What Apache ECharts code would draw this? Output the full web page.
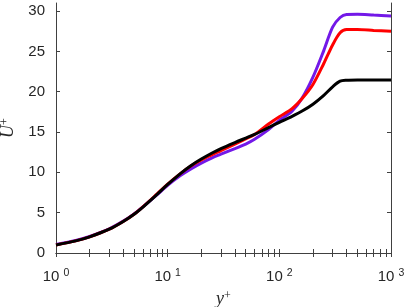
<!DOCTYPE html>
<html><head><meta charset="utf-8">
<script src="https://cdn.jsdelivr.net/npm/echarts@6/dist/echarts.min.js"></script>
<style>html,body{margin:0;padding:0;background:#fff}#c{width:407px;height:307px}</style>
</head><body><div id="c"></div>
<script>
const yPlus = [1,1.5,2,3,4,5,6,8,10,13,16,20,25,30,40,50,60,80,100,130,160,200,250,300,350,400,500,700,1000];
const uBlack = [1.0,1.5,2.0,2.95,3.9,4.8,5.7,7.25,8.5,9.85,10.8,11.65,12.4,12.95,13.7,14.25,14.7,15.55,16.2,16.95,17.6,18.45,19.55,20.6,21.3,21.42,21.45,21.45,21.45];
const uRed = [1.0,1.5,2.0,2.95,3.9,4.8,5.72,7.3,8.55,9.85,10.75,11.55,12.2,12.7,13.5,14.15,14.7,16.0,16.9,17.9,19.15,20.9,23.5,25.8,27.3,27.7,27.7,27.6,27.5];
const uPurple = [1.05,1.55,2.05,3.0,3.95,4.85,5.72,7.2,8.4,9.6,10.4,11.15,11.8,12.25,12.95,13.5,14.1,15.3,16.45,17.6,19.2,21.8,25.1,28.0,29.2,29.58,29.6,29.5,29.4];
const xMajor = [1,10,100,1000];
const xMinor = [1,2,3,4,5,6,7,8,9,10,20,30,40,50,60,70,80,90,100,200,300,400,500,600,700,800,900,1000];
const yTicks = [0,5,10,15,20,25,30];

const axisColor = '#404040';
const textColor = '#262626';
const font = 'Liberation Sans';
const pair = (u) => yPlus.map((x, i) => [x, u[i]]);
const expLabel = (v) => '{b|10}{s|' + Math.round(Math.log10(v)) + '}';
const nameRich = {
  i: {fontFamily: 'Liberation Serif', fontStyle: 'italic', fontSize: 18, color: textColor},
  s: {fontFamily: 'Liberation Serif', fontSize: 12, verticalAlign: 'top', padding: [0,0,8,0], color: textColor}
};

const chart = echarts.init(document.getElementById('c'), null, {renderer: 'canvas'});
const mkLine = (name, data, color) => ({
  name, type: 'line', data: pair(data), xAxisIndex: 0, yAxisIndex: 0,
  smooth: 0.3, showSymbol: false, symbol: 'none',
  lineStyle: {color, width: 3}, itemStyle: {color}
});
const boxAxis = {
  axisLine: {show: true, lineStyle: {color: axisColor, width: 1}},
  axisLabel: {show: false}, splitLine: {show: false}
};
chart.setOption({
  animation: false,
  grid: {left: 56, right: 16, top: 3, bottom: 54, containLabel: false, outerBoundsMode: 'none'},
  xAxis: [{
    type: 'log', logBase: 10, min: 1, max: 1000, position: 'bottom',
    name: '{i|y}{s|+}', nameLocation: 'middle', nameGap: 32,
    nameTextStyle: {rich: nameRich},
    axisLine: {show: true, lineStyle: {color: axisColor, width: 1}},
    axisTick: {show: true, inside: true, length: 4, lineStyle: {color: axisColor}, customValues: xMinor},
    axisLabel: {margin: 15, customValues: xMajor, formatter: expLabel,
      rich: {b: {fontFamily: font, fontSize: 15, color: textColor},
             s: {fontFamily: font, fontSize: 10.5, color: textColor, padding: [0,0,7,4]}}},
    splitLine: {show: false}
  }, Object.assign({
    type: 'log', logBase: 10, min: 1, max: 1000, position: 'top',
    axisTick: {show: true, inside: true, length: 4, lineStyle: {color: axisColor}, customValues: xMinor}
  }, boxAxis)],
  yAxis: [{
    type: 'value', min: 0, max: 31, position: 'left',
    name: '{i|U}{s|+}', nameLocation: 'middle', nameGap: 34, nameRotate: 90,
    nameTextStyle: {rich: nameRich},
    axisLine: {show: true, lineStyle: {color: axisColor, width: 1}},
    axisTick: {show: true, inside: true, length: 4, lineStyle: {color: axisColor}, customValues: yTicks},
    axisLabel: {margin: 11, customValues: yTicks, fontFamily: font, fontSize: 15, color: textColor},
    splitLine: {show: false}
  }, Object.assign({
    type: 'value', min: 0, max: 31, position: 'right',
    axisTick: {show: true, inside: true, length: 4, lineStyle: {color: axisColor}, customValues: yTicks}
  }, boxAxis)],
  series: [
    mkLine('purple', uPurple, '#7318E8'),
    mkLine('red', uRed, '#FF0000'),
    mkLine('black', uBlack, '#000000')
  ]
});
</script></body></html>
